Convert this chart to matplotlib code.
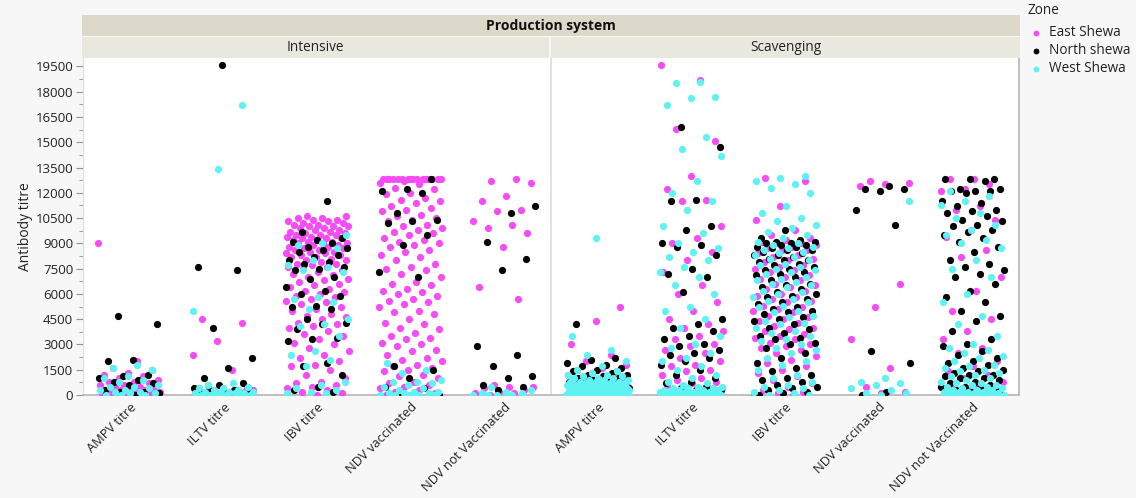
import numpy as np
import matplotlib
matplotlib.use("Agg")
import matplotlib.pyplot as plt
from matplotlib.patches import Rectangle
from matplotlib.lines import Line2D

plt.rcParams["font.family"] = ["Open Sans", "DejaVu Sans"]

# values are read in hundreds of titre units
systems = ["Intensive", "Scavenging"]
tests = ["AMPV titre", "ILTV titre", "IBV titre", "NDV vaccinated", "NDV not Vaccinated"]
zones = ["East Shewa", "North shewa", "West Shewa"]
zone_colors = ["#f54cf5", "#000000", "#5ef2f2"]

# ---- Intensive ----
amp_i_e = [90, 20, 16, 15, 13, 12, 11, 10, 9, 8, 8, 7, 6, 6, 5, 5, 4, 4, 3, 3, 3, 2, 2, 2, 1, 1, 1, 1, 0, 0, 0, 0]
amp_i_n = [47, 42, 21, 20, 12, 11, 10, 9, 8, 7, 6, 3, 2, 2, 1, 0]
amp_i_w = [18, 16, 15, 11, 10, 9, 8, 6, 5, 5, 4, 3, 3, 2, 2, 1, 1, 0, 0, 0]

ilt_i_e = [45, 43, 32, 24, 15, 6, 5, 4, 4, 3, 3, 3, 2, 2, 2, 1, 1, 1, 1, 0, 0, 0, 0, 0]
ilt_i_n = [196, 76, 74, 40, 22, 16, 10, 7, 6, 4, 3, 3, 2, 2, 1, 0]
ilt_i_w = [172, 134, 50, 7, 6, 5, 4, 4, 3, 3, 2, 2, 2, 1, 1, 1, 1, 0, 0, 0, 0, 0, 0]

ibv_i_e = [106, 106, 105, 105, 104, 104, 103, 103, 102, 102, 101, 101, 100, 100, 100, 99, 99, 98, 98,
           97, 97, 96, 96, 95, 95, 95, 94, 94, 93, 93, 93, 92, 92, 91, 91, 90, 90, 90, 89, 89, 88, 88,
           87, 87, 86, 86, 85, 85, 84, 84, 83, 83, 82, 82, 81, 80, 80, 79, 78, 78, 77, 76, 76, 75, 74,
           73, 72, 71, 70, 69, 68, 67, 66, 65, 64, 63, 62, 61, 60, 59, 58, 57, 56, 55, 54, 52, 51, 50,
           48, 47, 46, 45, 43, 42, 41, 40, 38, 36, 35, 33, 31, 30, 28, 26, 24, 22, 20, 18, 17, 15, 12,
           10, 8, 7, 6, 5, 4, 3, 2, 1, 0]
ibv_i_n = [115, 97, 93, 92, 91, 90, 88, 87, 86, 85, 83, 82, 80, 79, 78, 76, 75, 74, 70, 69, 64, 62, 60,
           59, 53, 52, 51, 45, 43, 42, 39, 34, 33, 32, 19, 17, 12, 5, 3, 2]
ibv_i_w = [95, 90, 89, 87, 80, 77, 76, 74, 73, 58, 57, 55, 51, 45, 42, 41, 35, 26, 24, 21, 17, 8, 6, 4,
           3, 2, 1, 1]

ndv_i_e = [128, 128, 128, 128, 128, 128, 128, 128, 128, 128, 128, 128, 128, 128, 128, 128, 127, 126,
           125, 123, 122, 120, 119, 117, 116, 115, 114, 112, 111, 110, 109, 107, 106, 105, 104, 103,
           101, 100, 99, 98, 97, 96, 95, 93, 92, 91, 90, 89, 88, 86, 85, 83, 82, 80, 78, 76, 75, 74,
           72, 70, 67, 66, 65, 63, 62, 61, 60, 59, 57, 56, 55, 54, 52, 50, 49, 48, 45, 43, 42, 40, 39,
           37, 35, 34, 33, 31, 30, 29, 27, 26, 24, 22, 21, 20, 18, 17, 16, 15, 14, 12, 11, 10, 8, 7, 6,
           5, 4, 3, 2, 1, 0, 0]
ndv_i_n = [128, 122, 121, 120, 108, 104, 103, 102, 95, 89, 73, 70, 17, 15, 10, 5, 4, 1, 0]
ndv_i_w = [19, 15, 13, 9, 8, 8, 7, 6, 5, 4, 3, 2, 2, 1, 1, 1, 0, 0, 0, 0, 0]

nnv_i_e = [128, 127, 126, 118, 115, 110, 109, 103, 101, 99, 96, 88, 64, 57, 6, 5, 5, 4, 3, 2, 1, 1, 0]
nnv_i_n = [112, 108, 91, 81, 74, 29, 24, 17, 11, 10, 6, 5, 3]
nnv_i_w = [5, 3, 2, 1, 1, 0, 0, 0, 0]

# ---- Scavenging ----
amp_s_e = [52, 44, 30, 24, 20, 18, 16, 15, 14, 13, 12, 11, 10, 9, 8, 8, 7, 6, 5, 4, 3, 3, 2, 2, 1, 1,
           0, 0, 0, 0]
amp_s_n = [42, 22, 21, 19, 18, 17, 16, 15, 14, 13, 12, 12, 11, 10, 10, 9, 8, 8, 7, 6, 6, 5, 5, 4, 4, 3,
           3, 3, 2, 2, 2, 1, 1, 1, 0, 0, 0, 0]
amp_s_w = [93, 35, 27, 24, 20, 17, 15, 14, 13, 12, 12, 11, 11, 10, 10, 10, 9, 9, 9, 8, 8, 8, 8, 7, 7, 7,
           7, 6, 6, 6, 6, 6, 5, 5, 5, 5, 5, 5, 4, 4, 4, 4, 4, 4, 4, 3, 3, 3, 3, 3, 3, 3, 3, 2, 2, 2, 2,
           2, 2, 2, 2, 2, 1, 1, 1, 1, 1, 1, 1, 1, 1, 1, 0, 0, 0, 0, 0, 0, 0, 0, 0, 0, 0, 0, 0, 0, 0, 0,
           0, 0]

ilt_s_e = [196, 187, 158, 151, 130, 122, 116, 115, 100, 93, 90, 85, 80, 73, 65, 60, 55, 50, 45, 42, 40,
           38, 35, 33, 30, 29, 27, 25, 22, 20, 18, 17, 15, 14, 12, 10, 9, 8, 7, 6, 5, 5, 4, 4, 3, 3, 2,
           2, 1, 1, 0, 0]
ilt_s_n = [159, 147, 116, 115, 100, 98, 90, 89, 88, 83, 75, 72, 70, 61, 45, 42, 40, 38, 35, 33, 30, 29,
           27, 25, 24, 22, 20, 18, 15, 12, 10, 8, 7, 5, 4, 3, 3, 2, 2, 1, 1, 0, 0]
ilt_s_w = [186, 185, 177, 176, 172, 153, 146, 142, 127, 120, 115, 110, 100, 96, 90, 87, 85, 82, 80, 76,
           73, 70, 65, 60, 52, 50, 45, 40, 35, 30, 28, 25, 22, 20, 17, 15, 12, 10, 8, 7, 6, 5, 5, 4, 4,
           4, 3, 3, 3, 3, 2, 2, 2, 2, 2, 1, 1, 1, 1, 1, 1, 0, 0, 0, 0, 0, 0, 0, 0, 0]

ibv_s_e = [129, 127, 112, 104, 98, 95, 93, 92, 91, 90, 90, 89, 88, 87, 86, 86, 84, 83, 82, 81, 80, 79,
           77, 76, 75, 74, 73, 71, 70, 69, 68, 66, 65, 64, 63, 62, 60, 59, 58, 57, 56, 55, 53, 52, 51,
           50, 49, 47, 46, 45, 44, 43, 41, 40, 39, 38, 36, 35, 34, 33, 31, 30, 29, 28, 27, 25, 23, 21,
           19, 17, 15, 13, 11, 9, 7, 5, 3, 2, 1, 0, 0]
ibv_s_n = [98, 93, 92, 91, 91, 90, 90, 89, 89, 88, 88, 87, 86, 86, 85, 84, 83, 83, 82, 81, 80, 80, 79,
           78, 77, 76, 75, 74, 73, 72, 71, 70, 68, 66, 65, 64, 63, 61, 60, 59, 58, 57, 55, 54, 52, 51,
           50, 49, 48, 46, 45, 44, 42, 40, 39, 37, 35, 34, 33, 31, 30, 28, 25, 22, 19, 16, 14, 12, 10,
           9, 8, 6, 5, 4, 3, 2, 1, 0]
ibv_s_w = [130, 129, 127, 125, 123, 120, 112, 108, 105, 103, 101, 99, 97, 95, 93, 91, 90, 89, 88, 87,
           86, 85, 84, 83, 82, 81, 80, 78, 77, 76, 75, 74, 73, 72, 70, 69, 68, 67, 66, 65, 64, 62, 61,
           60, 58, 57, 56, 55, 53, 52, 50, 49, 47, 46, 44, 43, 42, 40, 38, 37, 35, 33, 32, 30, 28, 27,
           25, 22, 20, 18, 15, 12, 10, 8, 6, 5, 4, 3, 2, 1, 0, 0]

ndv_s_e = [127, 126, 125, 124, 66, 52, 33, 16, 5, 2, 1]
ndv_s_n = [124, 122, 122, 121, 110, 101, 26, 19, 2, 0]
ndv_s_w = [115, 10, 8, 7, 6, 4, 3, 1, 1, 0]

nnv_s_e = [128, 128, 125, 122, 121, 112, 110, 104, 98, 94, 86, 82, 70, 62, 50, 45, 38, 33, 28, 25, 20,
           17, 14, 12, 10, 8, 6, 5, 4, 3, 2, 1, 1, 0, 0]
nnv_s_n = [128, 128, 128, 127, 122, 122, 121, 121, 121, 120, 115, 114, 112, 110, 109, 108, 106, 104,
           103, 101, 100, 98, 97, 95, 93, 91, 88, 85, 80, 78, 76, 74, 72, 70, 66, 62, 58, 55, 50, 47,
           44, 38, 33, 30, 29, 26, 24, 22, 20, 19, 18, 16, 15, 14, 13, 12, 12, 11, 10, 10, 9, 8, 7, 6,
           5, 5, 4, 3, 3, 2, 2, 1, 1, 0, 0]
nnv_s_w = [121, 118, 115, 113, 108, 105, 101, 98, 95, 92, 90, 87, 80, 75, 70, 60, 55, 47, 42, 35, 30,
           28, 27, 25, 23, 22, 20, 18, 17, 16, 15, 14, 13, 12, 11, 10, 9, 8, 7, 7, 6, 6, 5, 5, 4, 4, 3,
           3, 3, 2, 2, 2, 2, 1, 1, 1, 1, 1, 0, 0, 0, 0, 0, 0, 0, 0]

groups = [
    [amp_i_e, amp_i_n, amp_i_w], [ilt_i_e, ilt_i_n, ilt_i_w], [ibv_i_e, ibv_i_n, ibv_i_w],
    [ndv_i_e, ndv_i_n, ndv_i_w], [nnv_i_e, nnv_i_n, nnv_i_w],
    [amp_s_e, amp_s_n, amp_s_w], [ilt_s_e, ilt_s_n, ilt_s_w], [ibv_s_e, ibv_s_n, ibv_s_w],
    [ndv_s_e, ndv_s_n, ndv_s_w], [nnv_s_e, nnv_s_n, nnv_s_w],
]

W, H = 1136, 498
fig = plt.figure(figsize=(W / 100, H / 100), dpi=100)
fig.patch.set_facecolor("#f7f7f7")


def fx(px):
    return px / W


def fy(py):
    return 1 - py / H


L, R, T, B = 83, 1019, 58, 395
ax = fig.add_axes([fx(L), fy(B), fx(R) - fx(L), fy(T) - fy(B)])
ax.set_facecolor("white")

# jittered points, spread deterministically (golden ratio sequence)
phi = 0.6180339887
for gi, zone_vals in enumerate(groups):
    for zi, vals in enumerate(zone_vals):
        v = np.array(vals, dtype=float) * 100
        k = np.arange(len(v))
        off = ((k * phi + 0.31 * zi + 0.17 * gi) % 1.0 - 0.5) * 0.68
        ax.scatter(gi + 0.5 + off, v, s=27, color=zone_colors[zi], linewidths=0, zorder=3 + zi * 0.01)

ax.set_xlim(0, 10)
ax.set_ylim(0, 20000)
ax.axvline(5, color="#dcdcdc", lw=1.2, zorder=1)

ax.set_yticks(np.arange(0, 19501, 1500))
ax.set_yticks(np.arange(750, 20000, 1500), minor=True)
ax.tick_params(axis="y", which="major", length=5, color="#909090", labelsize=9.5, labelcolor="#222222", pad=2)
ax.tick_params(axis="y", which="minor", length=3, color="#909090")
ax.set_xticks(np.arange(10) + 0.5)
ax.set_xticklabels(tests * 2, rotation=45, ha="right", rotation_mode="anchor", fontsize=9.3, color="#222222")
ax.tick_params(axis="x", length=0, pad=4)

for side in ["top", "left"]:
    ax.spines[side].set_visible(False)
for side in ["bottom", "right"]:
    ax.spines[side].set_color("#b5b5b5")
    ax.spines[side].set_linewidth(1.2)
ax.axvline(0, color="#e0e0e0", lw=1)

ax.set_ylabel("Antibody titre", fontsize=10, color="#222222", labelpad=2)

# facet header bands
fig.add_artist(Rectangle((fx(82), fy(36)), fx(1020) - fx(82), fy(15) - fy(36),
                         transform=fig.transFigure, facecolor="#dcd9cb", edgecolor="none"))
fig.text(fx(551), fy(26), "Production system", ha="center", va="center", fontsize=10,
         fontweight="bold", color="#111111")
for x0, x1, name in [(82, 549, systems[0]), (551, 1020, systems[1])]:
    fig.add_artist(Rectangle((fx(x0), fy(58)), fx(x1) - fx(x0), fy(37) - fy(58),
                             transform=fig.transFigure, facecolor="#e9e8df", edgecolor="none"))
    fig.text(fx((x0 + x1) / 2), fy(47.5), name, ha="center", va="center", fontsize=9.8, color="#222222")

# legend
fig.text(fx(1027), fy(10), "Zone", ha="left", va="center", fontsize=9.8, color="#222222")
for zi, (zname, col) in enumerate(zip(zones, zone_colors)):
    yy = 33 + zi * 18
    fig.add_artist(Line2D([fx(1036)], [fy(yy)], marker="o", markersize=4.2, color=col,
                          markeredgewidth=0, transform=fig.transFigure))
    fig.text(fx(1049), fy(yy), zname, ha="left", va="center", fontsize=9.8, color="#222222")

fig.savefig("out.png", dpi=100, facecolor=fig.get_facecolor())
